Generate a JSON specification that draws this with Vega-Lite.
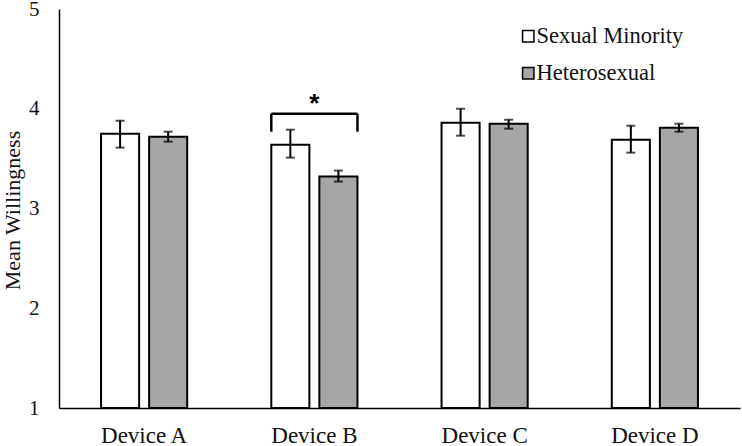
{
  "$schema": "https://vega.github.io/schema/vega-lite/v6.json",
  "width": 681,
  "height": 399,
  "autosize": {"type": "none"},
  "padding": {"left": 59, "top": 9, "right": 2, "bottom": 38},
  "background": "white",
  "config": {
    "view": {"stroke": null},
    "font": "Liberation Serif",
    "axis": {"labelFont": "Liberation Serif", "titleFont": "Liberation Serif", "labelColor": "#111", "titleColor": "#111"},
    "legend": {"labelFont": "Liberation Serif"}
  },
  "datasets": {
    "bars": [
      {"Device": "Device A", "group": "Sexual Minority", "mean": 3.75, "lo": 3.61, "hi": 3.88},
      {"Device": "Device A", "group": "Heterosexual", "mean": 3.72, "lo": 3.67, "hi": 3.77},
      {"Device": "Device B", "group": "Sexual Minority", "mean": 3.64, "lo": 3.51, "hi": 3.79},
      {"Device": "Device B", "group": "Heterosexual", "mean": 3.32, "lo": 3.27, "hi": 3.38},
      {"Device": "Device C", "group": "Sexual Minority", "mean": 3.86, "lo": 3.73, "hi": 4.0},
      {"Device": "Device C", "group": "Heterosexual", "mean": 3.85, "lo": 3.8, "hi": 3.89},
      {"Device": "Device D", "group": "Sexual Minority", "mean": 3.69, "lo": 3.56, "hi": 3.83},
      {"Device": "Device D", "group": "Heterosexual", "mean": 3.81, "lo": 3.77, "hi": 3.85}
    ],
    "bracket": [
      {"Device": "Device B", "bottom": 3.77, "top": 3.95, "star": 4.05, "label": "*"}
    ]
  },
  "encoding": {
    "x": {
      "field": "Device", "type": "nominal",
      "scale": {"paddingInner": 0.494, "paddingOuter": 0.247},
      "axis": {
        "title": null, "labelAngle": 0, "labelFontSize": 23, "labelPadding": 16,
        "ticks": false, "tickSize": 0, "domainColor": "#000", "domainWidth": 1.5
      }
    }
  },
  "layer": [
    {
      "data": {"name": "bars"},
      "mark": {"type": "bar", "stroke": "#000", "strokeWidth": 2},
      "encoding": {
        "xOffset": {"field": "group", "type": "nominal", "scale": {"domain": ["Sexual Minority", "Heterosexual"], "paddingInner": 0.208}},
        "y": {
          "field": "mean", "type": "quantitative",
          "scale": {"domain": [1, 5], "zero": false, "nice": false},
          "axis": {
            "title": "Mean Willingness", "titleFontSize": 22, "titleFontWeight": "normal",
            "titleAngle": -90, "titleX": -47, "titleY": 201, "titleBaseline": "middle", "titleAlign": "center",
            "values": [1, 2, 3, 4, 5], "format": "d", "labelFontSize": 21, "labelPadding": 20,
            "ticks": false, "tickSize": 0, "grid": false, "domainColor": "#000", "domainWidth": 1.5
          }
        },
        "y2": {"datum": 1},
        "fill": {
          "field": "group", "type": "nominal",
          "scale": {"domain": ["Sexual Minority", "Heterosexual"], "range": ["#ffffff", "#a6a6a6"]},
          "legend": {
            "title": null, "orient": "none", "legendX": 458, "legendY": 16,
            "symbolType": "square", "symbolSize": 130, "symbolStrokeColor": "#000", "symbolStrokeWidth": 1.5,
            "labelFontSize": 22.5, "labelColor": "#111", "labelOffset": -3, "rowPadding": 14, "padding": 0
          }
        }
      }
    },
    {
      "data": {"name": "bars"},
      "mark": {"type": "rule", "stroke": "#000", "strokeWidth": 2},
      "encoding": {
        "xOffset": {"field": "group", "type": "nominal"},
        "y": {"field": "lo", "type": "quantitative"},
        "y2": {"field": "hi"}
      }
    },
    {
      "data": {"name": "bars"},
      "mark": {"type": "tick", "color": "#000", "thickness": 2, "size": 9, "orient": "horizontal"},
      "encoding": {
        "xOffset": {"field": "group", "type": "nominal"},
        "y": {"field": "lo", "type": "quantitative"}
      }
    },
    {
      "data": {"name": "bars"},
      "mark": {"type": "tick", "color": "#000", "thickness": 2, "size": 9, "orient": "horizontal"},
      "encoding": {
        "xOffset": {"field": "group", "type": "nominal"},
        "y": {"field": "hi", "type": "quantitative"}
      }
    },
    {
      "data": {"name": "bracket"},
      "mark": {"type": "rect", "fill": null, "stroke": "#000", "strokeWidth": 2.5},
      "encoding": {
        "y": {"field": "top", "type": "quantitative"},
        "y2": {"field": "top"}
      }
    },
    {
      "data": {"name": "bracket"},
      "mark": {"type": "rule", "stroke": "#000", "strokeWidth": 2.5},
      "encoding": {
        "x": {"field": "Device", "type": "nominal", "bandPosition": 0},
        "y": {"field": "bottom", "type": "quantitative"},
        "y2": {"field": "top"}
      }
    },
    {
      "data": {"name": "bracket"},
      "mark": {"type": "rule", "stroke": "#000", "strokeWidth": 2.5},
      "encoding": {
        "x": {"field": "Device", "type": "nominal", "bandPosition": 1},
        "y": {"field": "bottom", "type": "quantitative"},
        "y2": {"field": "top"}
      }
    },
    {
      "data": {"name": "bracket"},
      "mark": {"type": "text", "fontSize": 26, "fontWeight": "bold", "baseline": "middle", "color": "#000", "font": "Liberation Sans"},
      "encoding": {
        "y": {"field": "star", "type": "quantitative"},
        "text": {"field": "label"}
      }
    }
  ]
}
